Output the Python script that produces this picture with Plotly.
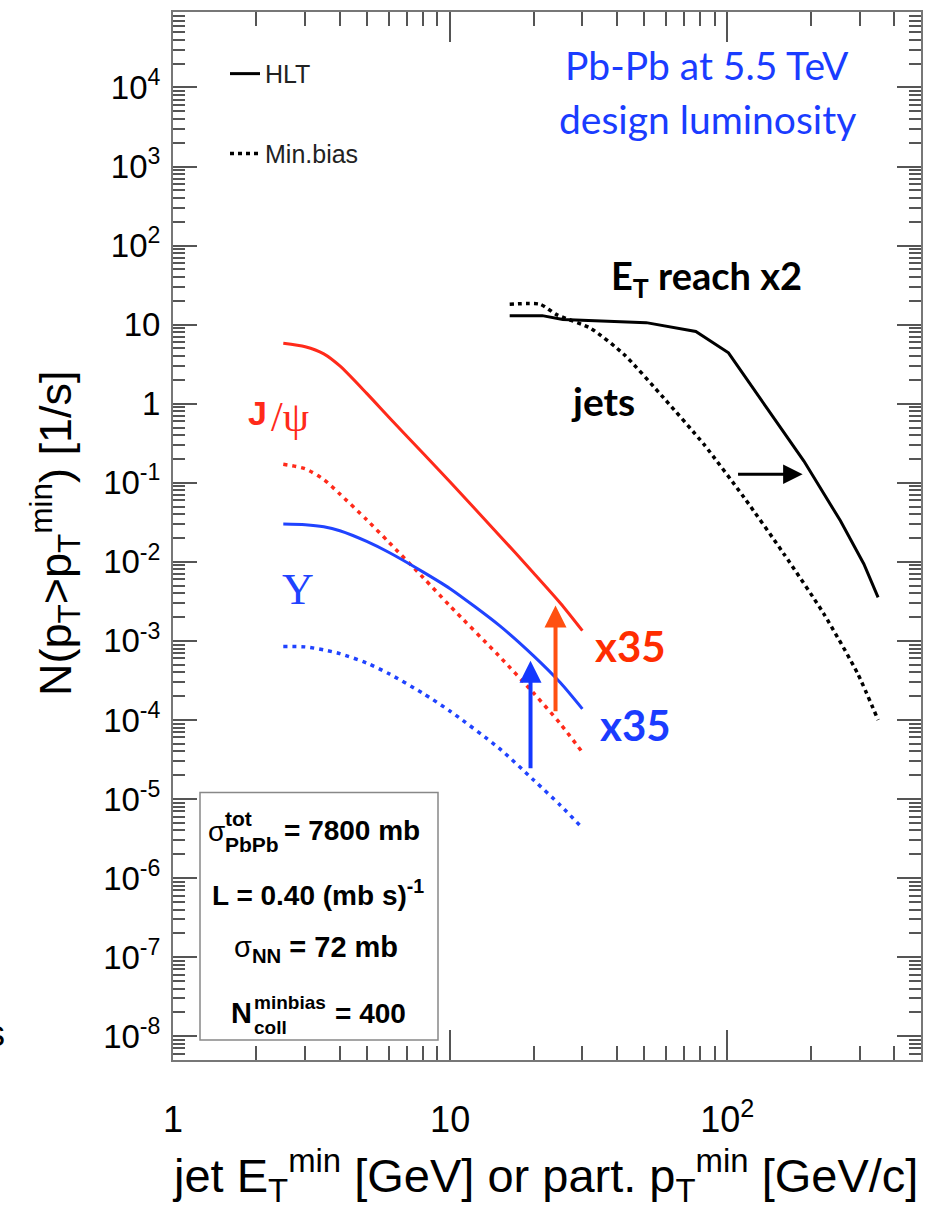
import math
import plotly.graph_objects as go

# ---------------- data ----------------
pt_quarkonia = [2.5, 3, 3.5, 4, 5, 6, 8, 10, 15, 20, 25, 30]
jpsi_hlt = [5.8, 5.25, 4.27, 3.0, 1.35, 0.68, 0.234, 0.102, 0.0219, 0.00724, 0.0030, 0.00135]
jpsi_minbias = [0.171, 0.150, 0.11, 0.072, 0.034, 0.0178, 0.0063, 0.00275, 6.46e-4, 2.19e-4, 8.9e-5, 3.9e-5]
ups_hlt = [0.030, 0.0294, 0.0277, 0.0247, 0.0181, 0.0132, 0.00741, 0.00457, 0.00158, 6.46e-4, 2.95e-4, 1.38e-4]
ups_minbias = [8.5e-4, 8.4e-4, 7.7e-4, 6.9e-4, 5.25e-4, 3.86e-4, 2.16e-4, 1.29e-4, 4.4e-5, 1.74e-5, 8.3e-6, 4.3e-6]

et_jets_hlt = [16.4, 21.5, 25.5, 51, 77, 101, 139, 189, 256, 311, 350]
jets_hlt = [13.0, 13.0, 11.6, 10.6, 8.2, 4.4, 0.88, 0.188, 0.033, 0.0094, 0.00356]
et_jets_minbias = [16.4, 21.1, 24.3, 32.1, 42.4, 59, 82.4, 115, 160, 223, 295, 350]
jets_minbias = [18.1, 18.1, 13.3, 9.0, 4.2, 1.18, 0.305, 0.065, 0.0126, 0.0022, 3.9e-4, 1.0e-4]

# arrows (data coordinates)
arrow_jets_x = [108, 187]
arrow_jets_y = 0.128
arrow_jpsi_x = 24.0
arrow_jpsi_y = [1.23e-4, 2.8e-3]
arrow_ups_x = 19.5
arrow_ups_y = [2.34e-5, 5.6e-4]

x_range = [1, 500]
y_range = [5e-9, 9e4]
y_tick_exps = list(range(-8, 5))
x_tick_vals = [1, 10, 100]
x_tick_text = ["1", "10", "10<sup>2</sup>"]

# ---------------- style ----------------
RED = "#ff2a1a"
BLUE = "#2043ff"
SANS = "Liberation Sans"
CAL = "Lato"
W, H = 937, 1214
ML, MR, MT, MB = 173, 16, 10, 154
PW, PH = W - ML - MR, H - MT - MB


def P(px, py):
    return (px - ML) / PW, (H - MB - py) / PH


fig = go.Figure()

fig.add_trace(go.Scatter(x=pt_quarkonia, y=jpsi_hlt, mode="lines", showlegend=False,
                         line=dict(color=RED, width=3, shape="spline", smoothing=0.7)))
fig.add_trace(go.Scatter(x=pt_quarkonia, y=jpsi_minbias, mode="lines", showlegend=False,
                         line=dict(color=RED, width=3.5, dash="4px,5px", shape="spline", smoothing=0.7)))
fig.add_trace(go.Scatter(x=pt_quarkonia, y=ups_hlt, mode="lines", showlegend=False,
                         line=dict(color=BLUE, width=3, shape="spline", smoothing=0.7)))
fig.add_trace(go.Scatter(x=pt_quarkonia, y=ups_minbias, mode="lines", showlegend=False,
                         line=dict(color=BLUE, width=3.5, dash="4px,5px", shape="spline", smoothing=0.7)))
fig.add_trace(go.Scatter(x=et_jets_hlt, y=jets_hlt, mode="lines", name="HLT", legend="legend",
                         line=dict(color="black", width=3)))
fig.add_trace(go.Scatter(x=et_jets_minbias, y=jets_minbias, mode="lines", name="Min.bias", legend="legend2",
                         line=dict(color="black", width=3.5, dash="4px,4px", shape="spline", smoothing=0.6)))

ann = []


def text(px, py, t, size, color="black", family=SANS, xanchor="center", yanchor="middle", angle=0):
    x, y = P(px, py)
    ann.append(dict(x=x, y=y, xref="paper", yref="paper", text=t, showarrow=False,
                    xanchor=xanchor, yanchor=yanchor, textangle=angle,
                    font=dict(size=size, color=color, family=family)))


# axis titles
text(55, 532, "N(p<sub>T</sub>&gt;p<sub>T</sub><sup>min</sup>) [1/s]", 45, angle=-90)
text(545, 1176, "jet E<sub>T</sub><sup>min</sup> [GeV] or part. p<sub>T</sub><sup>min</sup> [GeV/c]", 47)
text(7, 1033, "s", 36, xanchor="right")

# top-right blue label
text(707, 63, "Pb-Pb at 5.5 TeV", 39, color="#1a3cff", family=CAL)
text(707, 117, "design luminosity", 39, color="#1a3cff", family=CAL)

# jets labels
text(706, 277, "<b>E<sub>T</sub> reach x2</b>", 38, family=CAL)
text(603, 400, "<b>jets</b>", 39, family=CAL)

# quarkonia labels
text(269, 412, "<b>J</b>", 34, color=RED, xanchor="right")
text(269, 416, "/ψ", 42, color=RED, family="Liberation Serif", xanchor="left")
text(298, 589, "Υ", 44, color=BLUE, family="Liberation Serif")
text(630, 645, "<b>x35</b>", 42, color="#ff2d00", family=CAL)
text(635, 724, "<b>x35</b>", 42, color="#1a3cff", family=CAL)

# parameter box texts
text(216, 831, "σ", 28, xanchor="center")
text(223, 818, "<b>tot</b>", 21, xanchor="left")
text(223, 844, "<b>PbPb</b>", 21, xanchor="left")
text(282, 830, "<b>= 7800 mb</b>", 28, xanchor="left")
text(318, 893, "<b>L = 0.40 (mb s)<sup>-1</sup></b>", 28)
text(316, 949, "σ<sub><b>NN</b></sub><b> = 72 mb</b>", 29)
text(241, 1013, "<b>N</b>", 29)
text(252, 1002, "<b>minbias</b>", 19, xanchor="left")
text(252, 1027, "<b>coll</b>", 19, xanchor="left")
text(333, 1013, "<b>= 400</b>", 28, xanchor="left")

# arrows
lg = math.log10
ann.append(dict(x=lg(arrow_jets_x[1]), y=lg(arrow_jets_y), ax=lg(arrow_jets_x[0]), ay=lg(arrow_jets_y),
                xref="x", yref="y", axref="x", ayref="y", showarrow=True, text="",
                arrowhead=2, arrowsize=1.3, arrowwidth=3, arrowcolor="black"))
ann.append(dict(x=lg(arrow_jpsi_x), y=lg(arrow_jpsi_y[1]), ax=lg(arrow_jpsi_x), ay=lg(arrow_jpsi_y[0]),
                xref="x", yref="y", axref="x", ayref="y", showarrow=True, text="",
                arrowhead=2, arrowsize=1.1, arrowwidth=4, arrowcolor="#ff5010"))
ann.append(dict(x=lg(arrow_ups_x), y=lg(arrow_ups_y[1]), ax=lg(arrow_ups_x), ay=lg(arrow_ups_y[0]),
                xref="x", yref="y", axref="x", ayref="y", showarrow=True, text="",
                arrowhead=2, arrowsize=1.1, arrowwidth=4, arrowcolor="#1438ff"))

bx0, by0 = P(200, 1040)
bx1, by1 = P(438, 792)
shapes = [dict(type="rect", xref="paper", yref="paper", x0=bx0, y0=by0, x1=bx1, y1=by1,
               line=dict(color="#888", width=1.5), fillcolor="rgba(0,0,0,0)")]

y_tick_vals = [10.0 ** e for e in y_tick_exps]
y_tick_text = ["1" if e == 0 else "10" if e == 1 else f"10<sup>{e}</sup>" for e in y_tick_exps]
y_minor = [k * 10.0 ** e for e in range(-9, 5) for k in range(2, 10)]
x_minor = [k * 10.0 ** e for e in range(0, 3) for k in range(2, 10)]

lx, ly = P(225, 72)
lx2, ly2 = P(225, 152)
legend_common = dict(xanchor="left", yanchor="middle", bgcolor="rgba(0,0,0,0)",
                     font=dict(size=25, family=SANS, color="#222"), itemwidth=30)

fig.update_layout(
    width=W, height=H, margin=dict(l=ML, r=MR, t=MT, b=MB),
    paper_bgcolor="white", plot_bgcolor="white",
    annotations=ann, shapes=shapes,
    legend=dict(x=lx, y=ly, **legend_common),
    legend2=dict(x=lx2, y=ly2, **legend_common),
    xaxis=dict(type="log", range=[lg(x_range[0]), lg(x_range[1])],
               tickmode="array", tickvals=x_tick_vals, ticktext=x_tick_text,
               ticks="inside", ticklen=30, tickwidth=1.5, tickcolor="#555",
               showline=True, linecolor="#777", linewidth=2, mirror="allticks",
               showgrid=False, zeroline=False, ticklabelstandoff=27,
               tickfont=dict(size=36, family=SANS, color="black"),
               minor=dict(tickmode="array", tickvals=x_minor, ticks="inside", ticklen=14,
                          tickwidth=1.5, tickcolor="#555", showgrid=False)),
    yaxis=dict(type="log", range=[lg(y_range[0]), lg(y_range[1])],
               tickmode="array", tickvals=y_tick_vals, ticktext=y_tick_text,
               ticks="inside", ticklen=24, tickwidth=1.5, tickcolor="#555",
               showline=True, linecolor="#777", linewidth=2, mirror="allticks",
               showgrid=False, zeroline=False, ticklabelstandoff=4,
               tickfont=dict(size=33, family=SANS, color="black"),
               minor=dict(tickmode="array", tickvals=y_minor, ticks="inside", ticklen=12,
                          tickwidth=1.5, tickcolor="#555", showgrid=False)),
)

fig.write_html("out.html")
